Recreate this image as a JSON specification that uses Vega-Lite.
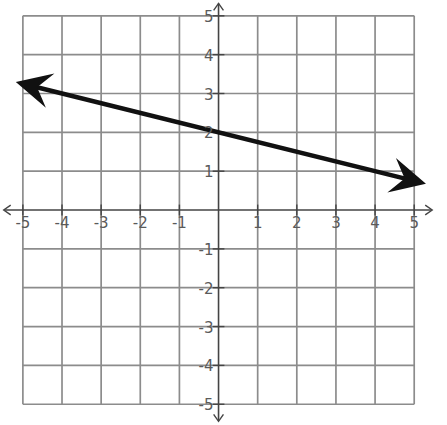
{
  "$schema": "https://vega.github.io/schema/vega-lite/v6.json",
  "width": 447,
  "height": 425,
  "padding": 0,
  "autosize": {"type": "fit", "contains": "padding"},
  "background": "white",
  "config": {"view": {"stroke": null}},
  "datasets": {
    "grid": [
      {"x": -5, "y": -5, "x2": -5, "y2": 5},
      {"x": -4, "y": -5, "x2": -4, "y2": 5},
      {"x": -3, "y": -5, "x2": -3, "y2": 5},
      {"x": -2, "y": -5, "x2": -2, "y2": 5},
      {"x": -1, "y": -5, "x2": -1, "y2": 5},
      {"x": 1, "y": -5, "x2": 1, "y2": 5},
      {"x": 2, "y": -5, "x2": 2, "y2": 5},
      {"x": 3, "y": -5, "x2": 3, "y2": 5},
      {"x": 4, "y": -5, "x2": 4, "y2": 5},
      {"x": 5, "y": -5, "x2": 5, "y2": 5},
      {"x": -5, "y": -5, "x2": 5, "y2": -5},
      {"x": -5, "y": -4, "x2": 5, "y2": -4},
      {"x": -5, "y": -3, "x2": 5, "y2": -3},
      {"x": -5, "y": -2, "x2": 5, "y2": -2},
      {"x": -5, "y": -1, "x2": 5, "y2": -1},
      {"x": -5, "y": 1, "x2": 5, "y2": 1},
      {"x": -5, "y": 2, "x2": 5, "y2": 2},
      {"x": -5, "y": 3, "x2": 5, "y2": 3},
      {"x": -5, "y": 4, "x2": 5, "y2": 4},
      {"x": -5, "y": 5, "x2": 5, "y2": 5}
    ],
    "axes": [
      {"x": -5.47, "y": 0, "x2": 5.44, "y2": 0},
      {"x": 0, "y": -5.42, "x2": 0, "y2": 5.32}
    ],
    "ticks": [
      {"x": -5, "y": -0.14, "x2": -5, "y2": 0.14},
      {"x": -4, "y": -0.14, "x2": -4, "y2": 0.14},
      {"x": -3, "y": -0.14, "x2": -3, "y2": 0.14},
      {"x": -2, "y": -0.14, "x2": -2, "y2": 0.14},
      {"x": -1, "y": -0.14, "x2": -1, "y2": 0.14},
      {"x": 1, "y": -0.14, "x2": 1, "y2": 0.14},
      {"x": 2, "y": -0.14, "x2": 2, "y2": 0.14},
      {"x": 3, "y": -0.14, "x2": 3, "y2": 0.14},
      {"x": 4, "y": -0.14, "x2": 4, "y2": 0.14},
      {"x": 5, "y": -0.14, "x2": 5, "y2": 0.14},
      {"x": -0.15, "y": -5, "x2": 0.15, "y2": -5},
      {"x": -0.15, "y": -4, "x2": 0.15, "y2": -4},
      {"x": -0.15, "y": -3, "x2": 0.15, "y2": -3},
      {"x": -0.15, "y": -2, "x2": 0.15, "y2": -2},
      {"x": -0.15, "y": -1, "x2": 0.15, "y2": -1},
      {"x": -0.15, "y": 1, "x2": 0.15, "y2": 1},
      {"x": -0.15, "y": 2, "x2": 0.15, "y2": 2},
      {"x": -0.15, "y": 3, "x2": 0.15, "y2": 3},
      {"x": -0.15, "y": 4, "x2": 0.15, "y2": 4},
      {"x": -0.15, "y": 5, "x2": 0.15, "y2": 5}
    ],
    "axisHeads": [
      {"x": 5.46, "y": 0, "angle": 0},
      {"x": -5.49, "y": 0, "angle": 180},
      {"x": 0, "y": 5.32, "angle": 270},
      {"x": 0, "y": -5.44, "angle": 90}
    ],
    "line": [
      {"x": -4.9, "y": 3.225},
      {"x": 5.0, "y": 0.75}
    ],
    "heads": [
      {"x": -5.18, "y": 3.295, "angle": 194},
      {"x": 5.3, "y": 0.675, "angle": 14}
    ],
    "xlabels": [
      {"x": -5, "y": 0, "label": "-5"},
      {"x": -4, "y": 0, "label": "-4"},
      {"x": -3, "y": 0, "label": "-3"},
      {"x": -2, "y": 0, "label": "-2"},
      {"x": -1, "y": 0, "label": "-1"},
      {"x": 1, "y": 0, "label": "1"},
      {"x": 2, "y": 0, "label": "2"},
      {"x": 3, "y": 0, "label": "3"},
      {"x": 4, "y": 0, "label": "4"},
      {"x": 5, "y": 0, "label": "5"}
    ],
    "ylabels": [
      {"x": 0, "y": -5, "label": "-5"},
      {"x": 0, "y": -4, "label": "-4"},
      {"x": 0, "y": -3, "label": "-3"},
      {"x": 0, "y": -2, "label": "-2"},
      {"x": 0, "y": -1, "label": "-1"},
      {"x": 0, "y": 1, "label": "1"},
      {"x": 0, "y": 2, "label": "2"},
      {"x": 0, "y": 3, "label": "3"},
      {"x": 0, "y": 4, "label": "4"},
      {"x": 0, "y": 5, "label": "5"}
    ]
  },
  "encoding": {
    "x": {
      "field": "x",
      "type": "quantitative",
      "scale": {"domain": [-5.508, 5.838], "nice": false, "zero": false},
      "axis": null
    },
    "y": {
      "field": "y",
      "type": "quantitative",
      "scale": {"domain": [-5.457, 5.33], "nice": false, "zero": false},
      "axis": null
    }
  },
  "layer": [
    {
      "data": {"name": "grid"},
      "mark": {"type": "rule", "color": "#8c8c8c", "strokeWidth": 1.7},
      "encoding": {"x2": {"field": "x2"}, "y2": {"field": "y2"}}
    },
    {
      "data": {"name": "axes"},
      "mark": {"type": "rule", "color": "#444444", "strokeWidth": 1.6},
      "encoding": {"x2": {"field": "x2"}, "y2": {"field": "y2"}}
    },
    {
      "data": {"name": "ticks"},
      "mark": {"type": "rule", "color": "#444444", "strokeWidth": 1.4},
      "encoding": {"x2": {"field": "x2"}, "y2": {"field": "y2"}}
    },
    {
      "data": {"name": "axisHeads"},
      "mark": {
        "type": "point",
        "shape": "M-1,-0.7L0,0L-1,0.7",
        "size": 196,
        "filled": false,
        "stroke": "#444444",
        "strokeWidth": 1.4,
        "opacity": 1
      },
      "encoding": {"angle": {"field": "angle", "type": "quantitative", "scale": null}}
    },
    {
      "data": {"name": "line"},
      "mark": {"type": "line", "color": "#111111", "strokeWidth": 4.5},
      "encoding": {}
    },
    {
      "data": {"name": "heads"},
      "mark": {
        "type": "point",
        "shape": "M0,0L-1,-0.5L-0.62,0L-1,0.5Z",
        "size": 5000,
        "filled": true,
        "color": "#111111",
        "opacity": 1
      },
      "encoding": {"angle": {"field": "angle", "type": "quantitative", "scale": null}}
    },
    {
      "data": {"name": "xlabels"},
      "mark": {
        "type": "text",
        "font": "DejaVu Sans",
        "fontSize": 15,
        "color": "#5a5a5a",
        "align": "center",
        "baseline": "middle",
        "dx": 0,
        "dy": 13
      },
      "encoding": {"text": {"field": "label"}}
    },
    {
      "data": {"name": "ylabels"},
      "mark": {
        "type": "text",
        "font": "DejaVu Sans",
        "fontSize": 15,
        "color": "#5a5a5a",
        "align": "right",
        "baseline": "middle",
        "dx": -5,
        "dy": 1
      },
      "encoding": {"text": {"field": "label"}}
    }
  ]
}
